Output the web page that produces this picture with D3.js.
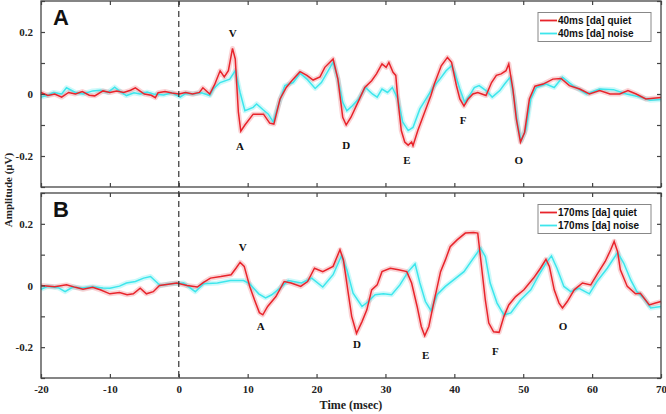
<!DOCTYPE html>
<html>
<head>
<meta charset="utf-8">
<script src="https://cdn.jsdelivr.net/npm/d3@7"></script>
<style>
  body { margin: 0; background: #fff; }
  svg { display: block; }
</style>
</head>
<body>
<svg></svg>
<script>
let width = 666, height = 414;

// time (ms) / amplitude (uV)
var quiet40 = [[-20,0.005],[-19,-0.005],[-18,0.0],[-17,-0.01],[-16,0.005],[-15,0.0],[-14,0.008],[-13,-0.004],[-12.2,-0.006],[-11,0.01],[-10,0.005],[-9,0.01],[-8,0.005],[-7,0.012],[-6.3,0.02],[-5,0.0],[-4,-0.004],[-3.4,-0.012],[-3,0.004],[-2,0.008],[-1,0.003],[0,0.0],[1,0.005],[2,0.0],[3,0.005],[3.5,0.02],[4.5,0.0],
  [5.2,0.03],[6,0.075],[6.6,0.055],[7.2,0.075],[7.8,0.147],[8.2,0.113],[8.65,-0.058],[9,-0.12],[9.6,-0.1],[10.8,-0.065],[12.3,-0.065],[13.2,-0.094],[13.8,-0.097],[14.7,-0.016],[15.6,0.021],[16.6,0.048],[17.6,0.072],[18.6,0.06],[19.5,0.045],[20.5,0.055],[21.2,0.086],[22.4,0.113],
  [23.1,0.048],[23.8,-0.075],[24.3,-0.1],[25,-0.075],[26,-0.027],[27,0.021],[28,0.043],[28.7,0.065],[29.5,0.097],[30.1,0.086],[30.5,0.102],[31.1,0.07],[31.5,0.06],[31.8,-0.016],[32.3,-0.118],[32.8,-0.155],[33.3,-0.165],[33.8,-0.155],[34,-0.167],[34.7,-0.118],[35.7,-0.058],[36.6,-0.005],[37.1,0.032],[38.1,0.091],[39,0.118],[39.6,0.102],[40.3,0.027],[40.8,-0.016],[41.4,-0.039],[42,-0.016],[42.7,0.0],[43.4,0.005],[44.6,-0.005],[45.4,0.037],[46.1,0.06],[46.8,0.065],[47.5,0.075],[47.9,0.097],[48.5,0.016],[49,-0.08],[49.6,-0.155],[50.2,-0.124],[50.9,-0.016],[51.7,0.025],[52.9,0.032],[54.3,0.048],[55.5,0.05],[56.7,0.027],[58.2,0.016],[59.6,0.0],[61.1,0.011],[62.6,0.0],[64,0.0],[65.2,0.011],[66.4,0.0],[67.8,-0.016],[70,-0.011]];

var noise40 = [[-20,-0.01],[-19,-0.004],[-18.2,0.005],[-17,0.0],[-16.3,0.02],[-15,0.005],[-13.9,0.0],[-12.5,0.01],[-11.4,0.012],[-10.3,0.005],[-9.3,0.022],[-8.5,0.008],[-7.6,-0.005],[-6.5,0.004],[-5.6,0.0],[-4.6,0.006],[-3.7,0.0],[-2.2,-0.003],[-1,0.004],[0.2,-0.01],[1,0.002],[2.1,0.0],[3.3,0.004],[4.5,-0.005],
  [5,0.016],[6,0.037],[7.4,0.048],[8.2,0.075],[8.9,0.005],[9.6,-0.054],[10.8,-0.043],[11.3,-0.032],[12.2,-0.05],[13,-0.065],[13.7,-0.09],[14.4,-0.04],[15.4,0.027],[16.6,0.037],[17.6,0.067],[18.6,0.048],[19.8,0.018],[20.7,0.037],[22.4,0.103],
  [23.1,0.048],[23.8,-0.027],[24.4,-0.054],[25.2,-0.038],[26.1,-0.016],[27.1,0.021],[28.1,0.0],[28.8,-0.01],[29.5,0.016],[30.3,0.005],[31,0.021],[31.8,-0.016],[32.5,-0.09],[33.3,-0.118],[34,-0.108],[35,-0.048],[35.9,-0.016],[36.9,0.021],[37.9,0.048],[38.8,0.075],[39.6,0.091],[40.1,0.065],[40.8,0.016],[41.5,-0.027],[42.2,-0.005],[42.9,0.021],[43.6,0.027],[44.6,0.011],[45.5,-0.01],[46.6,0.011],[47.3,0.032],[48.1,0.054],[48.7,-0.016],[49.2,-0.1],[49.7,-0.15],[50.4,-0.113],[51.1,-0.016],[51.9,0.021],[53.3,0.032],[54.5,0.021],[55.7,0.054],[57.2,0.027],[59.2,0.0],[61.1,0.016],[63.1,0.014],[65,0.0],[67,-0.01],[68.4,-0.02],[70,-0.018]];

var quiet170 = [[-20,0.0],[-18,-0.004],[-16.3,0.002],[-15,-0.006],[-13.9,-0.012],[-12.5,-0.006],[-11.4,-0.014],[-10,-0.027],[-8.6,-0.023],[-7.5,-0.03],[-6.6,-0.027],[-5.6,-0.009],[-4.7,-0.027],[-3.7,-0.02],[-2.8,0.0],[-1.5,0.004],[-0.3,0.008],[1.2,0.0],[2.7,-0.005],[3.6,0.01],[4.6,0.024],[6.1,0.029],[7.6,0.035],[8.3,0.056],[8.9,0.075],[9.5,0.062],[10.3,-0.003],[11,-0.047],[11.7,-0.088],[12.2,-0.095],[12.9,-0.068],[14.1,-0.036],[15.3,0.013],[16.3,0.008],[17.7,-0.003],[18.7,0.013],[19.7,0.056],[20.9,0.045],[22.4,0.062],
  [23.4,0.116],[23.9,0.083],[24.6,-0.025],[25.1,-0.1],[25.8,-0.155],[26.6,-0.117],[27.3,-0.079],[28,-0.014],[28.8,0.002],[29.5,0.045],[30.7,0.056],[31.9,0.051],[33.1,0.045],[33.8,0.008],[34.6,-0.068],[35.2,-0.133],[35.7,-0.163],[36.3,-0.133],[37,-0.057],[38,0.045],[38.7,0.083],[39.4,0.126],[40.4,0.148],[41.6,0.17],[42.8,0.172],[43.4,0.17],[44,0.051],[44.5,-0.047],[45,-0.122],[45.7,-0.15],[46.5,-0.152],[47.2,-0.1],[47.9,-0.063],[48.9,-0.036],[50.1,-0.014],[51.5,0.024],[52.5,0.056],[53.3,0.085],[53.8,0.062],[54.5,-0.014],[55.2,-0.057],[55.7,-0.073],[56.4,-0.052],[57.4,-0.014],[58.6,0.008],[59.8,0.002],[60.7,0.035],[61.9,0.078],[62.7,0.116],[63.2,0.143],[63.7,0.11],[64.1,0.051],[65.1,-0.003],[66.3,-0.027],[67,-0.025],[68.3,-0.063],[69.2,-0.057],[70,-0.052]];

var noise170 = [[-20,-0.012],[-19,-0.003],[-17.5,-0.007],[-16.5,-0.02],[-15.4,-0.005],[-14,-0.008],[-12.5,-0.004],[-11,-0.008],[-10,-0.009],[-8.6,-0.002],[-7.6,0.008],[-6.3,0.013],[-5.1,0.024],[-4.1,0.029],[-2.7,0.0],[-1.2,0.006],[0.7,0.008],[2.4,-0.02],[3.6,0.006],[5.6,0.008],[7.5,0.016],[9.4,0.016],[10.3,0.005],[11.6,-0.027],[12.6,-0.04],[13.5,-0.03],[14.5,-0.012],[15.9,0.016],[17.8,0.008],[19.3,0.024],[20.9,-0.005],[22.4,0.035],
  [23.6,0.096],[24.4,0.051],[25.3,-0.025],[26.6,-0.068],[27.5,-0.052],[28.5,-0.03],[29.7,-0.027],[30.9,-0.03],[32.1,0.002],[33.3,0.045],[34.3,0.07],[35,0.008],[35.8,-0.052],[36.6,-0.081],[37.5,-0.03],[38.7,-0.003],[39.9,0.018],[41.4,0.045],[42.6,0.083],[43.8,0.121],[44.5,0.094],[45.2,0.008],[46.2,-0.057],[47.2,-0.095],[48.2,-0.089],[49.6,-0.047],[51.1,-0.014],[52.3,0.035],[53.3,0.072],[54.1,0.096],[54.9,0.056],[55.9,-0.003],[56.9,-0.02],[58.1,-0.009],[59.6,-0.027],[60.7,0.013],[62.2,0.056],[63.7,0.107],[64.6,0.072],[65.6,0.018],[66.5,-0.02],[67.5,-0.041],[68.5,-0.073],[70,-0.068]];

var peaks40 = [["V",7.83,0.196],["A",8.89,-0.167],["D",24.32,-0.164],["E",33.13,-0.213],["F",41.26,-0.083],["O",49.34,-0.212]];
var peaks170 = [["V",9.28,0.124],["A",11.9,-0.13],["D",25.87,-0.19],["E",35.84,-0.227],["F",45.95,-0.211],["O",55.77,-0.13]];

var xTicks = [-20, -10, 0, 10, 20, 30, 40, 50, 60, 70];
var yTicks = [-0.3, -0.2, -0.1, 0, 0.1, 0.2, 0.3];
var yLabels = [-0.2, 0, 0.2];

var panels = [
  { letter: "A", top: 1, bottom: 187, quiet: quiet40, noise: noise40, peaks: peaks40,
    names: ["40ms [da] quiet", "40ms [da] noise"], labelsX: false },
  { letter: "B", top: 193, bottom: 378, quiet: quiet170, noise: noise170, peaks: peaks170,
    names: ["170ms [da] quiet", "170ms [da] noise"], labelsX: true }
];

var red = "#e8242b", cyan = "#3de6ec";
var serif = "'Liberation Serif', 'Times New Roman', serif";
var sans = "'Liberation Sans', Arial, sans-serif";

let svg = d3.select("svg").attr("width", width).attr("height", height);

var x = d3.scaleLinear().domain([-20, 70]).range([41, 661]);

// plain hyphen for negatives, as in the original figure
function xFmt(d) { return String(d); }
function yFmt(d) {
  if (!yLabels.some(v => Math.abs(v - d) < 1e-9)) return "";
  return Math.abs(d) < 1e-9 ? "0" : d.toFixed(1);
}

panels.forEach(function (p) {
  var y = d3.scaleLinear().domain([-0.3, 0.3]).range([p.bottom, p.top]);
  var g = svg.append("g");

  var line = d3.line().x(d => x(d[0])).y(d => y(d[1]));

  // shaded error band (drawn as a wide faint stroke)
  g.append("path").datum(p.noise).attr("d", line)
    .attr("fill", "none").attr("stroke", cyan).attr("stroke-opacity", 0.25)
    .attr("stroke-width", 5).attr("stroke-linejoin", "round");
  g.append("path").datum(p.quiet).attr("d", line)
    .attr("fill", "none").attr("stroke", red).attr("stroke-opacity", 0.2)
    .attr("stroke-width", 5).attr("stroke-linejoin", "round");
  g.append("path").datum(p.noise).attr("d", line)
    .attr("fill", "none").attr("stroke", cyan).attr("stroke-width", 1.5);
  g.append("path").datum(p.quiet).attr("d", line)
    .attr("fill", "none").attr("stroke", red).attr("stroke-width", 1.5);

  // axes, ticks inward on all four sides
  g.append("g").attr("transform", "translate(0," + p.bottom + ")")
    .call(d3.axisBottom(x).tickValues(xTicks).tickSize(-4).tickPadding(7).tickFormat(p.labelsX ? xFmt : ""));
  g.append("g").attr("transform", "translate(0," + p.top + ")")
    .call(d3.axisTop(x).tickValues(xTicks).tickSize(-4).tickFormat(""));
  g.append("g").attr("transform", "translate(41,0)")
    .call(d3.axisLeft(y).tickValues(yTicks).tickSize(-4).tickPadding(8).tickFormat(yFmt));
  g.append("g").attr("transform", "translate(661,0)")
    .call(d3.axisRight(y).tickValues(yTicks).tickSize(-4).tickFormat(""));

  g.selectAll(".domain").remove();
  g.selectAll(".tick line").attr("stroke", "#444").attr("stroke-width", 1.2);
  g.selectAll(".tick text").attr("font-family", serif).attr("font-weight", "bold")
    .attr("font-size", 11).attr("fill", "#222");

  g.append("rect").attr("x", 41).attr("y", p.top).attr("width", 620).attr("height", p.bottom - p.top)
    .attr("fill", "none").attr("stroke", "#444").attr("stroke-width", 1.3);

  g.append("text").attr("x", 53).attr("y", p.top + 24).text(p.letter)
    .attr("font-family", sans).attr("font-weight", "bold").attr("font-size", 22).attr("fill", "#111");

  g.selectAll(".peak").data(p.peaks).enter().append("text")
    .attr("x", d => x(d[1])).attr("y", d => y(d[2]))
    .attr("text-anchor", "middle").attr("dominant-baseline", "central")
    .attr("font-family", serif).attr("font-weight", "bold").attr("font-size", 11).attr("fill", "#111")
    .text(d => d[0]);

  // legend
  var lg = g.append("g").attr("transform", "translate(538," + (p.top + 11.5) + ")");
  lg.append("rect").attr("width", 113).attr("height", 29)
    .attr("fill", "#fff").attr("stroke", "#888").attr("stroke-width", 1);
  [red, cyan].forEach(function (c, i) {
    lg.append("line").attr("x1", 2).attr("x2", 19).attr("y1", 8 + i * 13).attr("y2", 8 + i * 13)
      .attr("stroke", c).attr("stroke-width", 1.8);
    lg.append("text").attr("x", 20).attr("y", 8 + i * 13).attr("dominant-baseline", "central")
      .attr("font-family", sans).attr("font-weight", "bold").attr("font-size", 10).attr("fill", "#111")
      .text(p.names[i]);
  });
});

// stimulus onset
svg.append("line").attr("x1", x(0)).attr("x2", x(0)).attr("y1", 1).attr("y2", 378)
  .attr("stroke", "#333").attr("stroke-width", 1.2).attr("stroke-dasharray", "6,4");

svg.append("text").attr("transform", "translate(12,190) rotate(-90)")
  .attr("text-anchor", "middle").attr("font-family", serif).attr("font-weight", "bold")
  .attr("font-size", 11).attr("fill", "#222").text("Amplitude (\u03bcV)");

svg.append("text").attr("x", 351).attr("y", 409).attr("text-anchor", "middle")
  .attr("font-family", serif).attr("font-weight", "bold").attr("font-size", 12).attr("fill", "#222")
  .text("Time (msec)");
</script>
</body>
</html>
